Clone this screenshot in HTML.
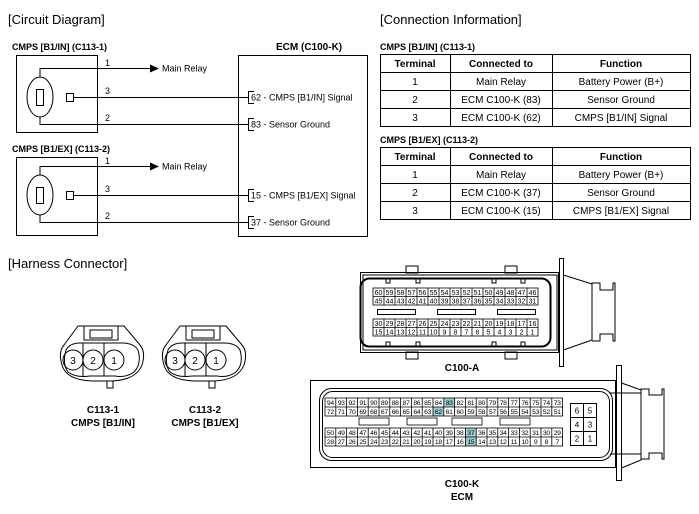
<!DOCTYPE html>
<html><head><meta charset="utf-8"><style>
html,body{margin:0;padding:0;background:#fff;}
svg{display:block;font-family:"Liberation Sans",Arial,sans-serif;}
.t{font-size:13px;}
.b{font-size:9px;font-weight:bold;}
.s{font-size:9px;}
</style></head><body>
<svg width="699" height="514" viewBox="0 0 699 514" xmlns="http://www.w3.org/2000/svg">
<g fill="none" stroke="#000" stroke-width="1">
<rect x="16.5" y="55.5" width="81" height="77"/>
<rect x="16.5" y="157.5" width="81" height="78"/>
<rect x="238.5" y="55.5" width="129" height="181"/>
<ellipse cx="40" cy="97" rx="13" ry="20"/>
<rect x="36.5" y="89.5" width="7" height="16"/>
<rect x="66.5" y="93.5" width="7" height="8"/>
<polyline points="40,77 40,68.5 150,68.5"/>
<polyline points="74,97.5 249,97.5"/>
<polyline points="40,117 40,124.5 249,124.5"/>
<polyline points="254,91.5 248.5,91.5 248.5,103.5 254,103.5"/>
<polyline points="254,118.5 248.5,118.5 248.5,130.5 254,130.5"/>
<ellipse cx="40" cy="195" rx="13" ry="20"/>
<rect x="36.5" y="187.5" width="7" height="16"/>
<rect x="66.5" y="191.5" width="7" height="8"/>
<polyline points="40,175 40,166.5 150,166.5"/>
<polyline points="74,195.5 249,195.5"/>
<polyline points="40,215 40,222.5 249,222.5"/>
<polyline points="254,189.5 248.5,189.5 248.5,201.5 254,201.5"/>
<polyline points="254,216.5 248.5,216.5 248.5,228.5 254,228.5"/>
<rect x="380.5" y="54.5" width="310" height="72"/>
<line x1="380" y1="72.5" x2="690" y2="72.5"/><line x1="380" y1="90.5" x2="690" y2="90.5"/><line x1="380" y1="108.5" x2="690" y2="108.5"/>
<line x1="450.5" y1="54" x2="450.5" y2="127"/><line x1="552.5" y1="54" x2="552.5" y2="127"/>
<rect x="380.5" y="147.5" width="310" height="72"/>
<line x1="380" y1="165.5" x2="690" y2="165.5"/><line x1="380" y1="183.5" x2="690" y2="183.5"/><line x1="380" y1="201.5" x2="690" y2="201.5"/>
<line x1="450.5" y1="147" x2="450.5" y2="220"/><line x1="552.5" y1="147" x2="552.5" y2="220"/>
</g>
<polygon points="150,64.5 159,68.5 150,72.5" fill="#000"/>
<polygon points="150,162.5 159,166.5 150,170.5" fill="#000"/>
<g fill="#000">
<text x="8" y="24" class="t">[Circuit Diagram]</text>
<text x="380" y="24" class="t">[Connection Information]</text>
<text x="8" y="268" class="t">[Harness Connector]</text>
<text x="12" y="50" class="b">CMPS [B1/IN] (C113-1)</text>
<text x="12" y="152" class="b">CMPS [B1/EX] (C113-2)</text>
<text x="276" y="50" class="b" style="font-size:10px">ECM (C100-K)</text>
<text x="105" y="66" class="s">1</text><text x="105" y="94" class="s">3</text><text x="105" y="121" class="s">2</text>
<text x="105" y="164" class="s">1</text><text x="105" y="192" class="s">3</text><text x="105" y="219" class="s">2</text>
<text x="162" y="71.5" class="s">Main Relay</text><text x="162" y="169.5" class="s">Main Relay</text>
<text x="251" y="100.5" class="s">62 - CMPS [B1/IN] Signal</text>
<text x="251" y="127.5" class="s">83 - Sensor Ground</text>
<text x="251" y="198.5" class="s">15 - CMPS [B1/EX] Signal</text>
<text x="251" y="225.5" class="s">37 - Sensor Ground</text>
<text x="380" y="50" class="b">CMPS [B1/IN] (C113-1)</text>
<text x="380" y="143" class="b">CMPS [B1/EX] (C113-2)</text>
<g font-size="10" text-anchor="middle">
<text x="415" y="67" font-weight="bold">Terminal</text><text x="501" y="67" font-weight="bold">Connected to</text><text x="621" y="67" font-weight="bold">Function</text>
<text x="415" y="85">1</text><text x="501" y="85">Main Relay</text><text x="621" y="85">Battery Power (B+)</text>
<text x="415" y="103">2</text><text x="501" y="103">ECM C100-K (83)</text><text x="621" y="103">Sensor Ground</text>
<text x="415" y="121">3</text><text x="501" y="121">ECM C100-K (62)</text><text x="621" y="121">CMPS [B1/IN] Signal</text>
<text x="415" y="160" font-weight="bold">Terminal</text><text x="501" y="160" font-weight="bold">Connected to</text><text x="621" y="160" font-weight="bold">Function</text>
<text x="415" y="178">1</text><text x="501" y="178">Main Relay</text><text x="621" y="178">Battery Power (B+)</text>
<text x="415" y="196">2</text><text x="501" y="196">ECM C100-K (37)</text><text x="621" y="196">Sensor Ground</text>
<text x="415" y="214">3</text><text x="501" y="214">ECM C100-K (15)</text><text x="621" y="214">CMPS [B1/EX] Signal</text>
</g>
<g font-size="10" font-weight="bold" text-anchor="middle">
<text x="103" y="413">C113-1</text><text x="103" y="426">CMPS [B1/IN]</text>
<text x="205" y="413">C113-2</text><text x="205" y="426">CMPS [B1/EX]</text>
<text x="462" y="371">C100-A</text>
<text x="462" y="487">C100-K</text><text x="462" y="500">ECM</text>
</g>
</g>
<g fill="none" stroke="#000" stroke-width="1">
<g id="sc">
<path d="M78,326 L124,326 L140,345 Q146,352 142,365 Q136,380 112,381 L92,381 Q66,380 62,365 Q58,352 64,345 Z"/>
<rect x="84" y="326" width="34" height="14"/>
<rect x="90" y="330" width="22" height="8"/>
<path d="M66,350 Q70,343 80,343 L122,343 Q134,343 138,350 Q142,364 134,372 Q126,378 115,376 L90,376 Q76,378 68,372 Q62,364 66,350 Z"/>
<line x1="83" y1="343" x2="83" y2="376"/><line x1="104" y1="343" x2="104" y2="376"/>
<circle cx="73" cy="360" r="10"/><circle cx="93" cy="360" r="10"/><circle cx="114" cy="360" r="10"/>
<polyline points="107,381 107,388 113,388 113,381"/>
</g>
<use href="#sc" x="102"/>
</g>
<g font-size="10" text-anchor="middle"><text x="73" y="364">3</text><text x="93" y="364">2</text><text x="114" y="364">1</text>
<text x="175" y="364">3</text><text x="195" y="364">2</text><text x="216" y="364">1</text></g>
<g fill="none" stroke="#000" stroke-width="1">
<rect x="360.5" y="272.5" width="198" height="80" fill="#fff"/>
<rect x="363" y="275" width="194" height="75"/>
<rect x="360.5" y="278.5" width="190" height="68" rx="9" stroke-width="2"/>
<rect x="406" y="266" width="12" height="7"/><rect x="505" y="266" width="12" height="7"/>
<rect x="406" y="352" width="12" height="7"/><rect x="505" y="352" width="12" height="7"/>
<rect x="386" y="279" width="4" height="4"/><rect x="416" y="279" width="4" height="4"/><rect x="492" y="279" width="4" height="4"/><rect x="521" y="279" width="4" height="4"/>
<rect x="386" y="342" width="4" height="4"/><rect x="416" y="342" width="4" height="4"/><rect x="492" y="342" width="4" height="4"/><rect x="521" y="342" width="4" height="4"/>
<rect x="559.5" y="258.5" width="4" height="108"/>
<polyline points="563.5,275 592,284 592,340 563.5,350"/>
<polyline points="592,284 592,283 600,283 600,290 613,290 613,283 615,283 615,341 613,341 613,334 600,334 600,341 592,341"/>
<rect x="377.5" y="309.5" width="38" height="5"/><rect x="437.5" y="309.5" width="38" height="5"/><rect x="497.5" y="309.5" width="38" height="5"/>
</g>
<g fill="none" stroke="#000" stroke-width="0.8">
<rect x="373" y="288" width="165" height="17"/><line x1="373" y1="296.5" x2="538" y2="296.5"/>
<rect x="373" y="319" width="165" height="17"/><line x1="373" y1="327.5" x2="538" y2="327.5"/>
<path d="M384,288v17M395,288v17M406,288v17M417,288v17M428,288v17M439,288v17M450,288v17M461,288v17M472,288v17M483,288v17M494,288v17M505,288v17M516,288v17M527,288v17"/>
<path d="M384,319v17M395,319v17M406,319v17M417,319v17M428,319v17M439,319v17M450,319v17M461,319v17M472,319v17M483,319v17M494,319v17M505,319v17M516,319v17M527,319v17"/>
</g>
<g font-size="7" text-anchor="middle">
<text y="295"><tspan x="378.5">60</tspan><tspan x="389.5">59</tspan><tspan x="400.5">58</tspan><tspan x="411.5">57</tspan><tspan x="422.5">56</tspan><tspan x="433.5">55</tspan><tspan x="444.5">54</tspan><tspan x="455.5">53</tspan><tspan x="466.5">52</tspan><tspan x="477.5">51</tspan><tspan x="488.5">50</tspan><tspan x="499.5">49</tspan><tspan x="510.5">48</tspan><tspan x="521.5">47</tspan><tspan x="532.5">46</tspan></text>
<text y="303.5"><tspan x="378.5">45</tspan><tspan x="389.5">44</tspan><tspan x="400.5">43</tspan><tspan x="411.5">42</tspan><tspan x="422.5">41</tspan><tspan x="433.5">40</tspan><tspan x="444.5">39</tspan><tspan x="455.5">38</tspan><tspan x="466.5">37</tspan><tspan x="477.5">36</tspan><tspan x="488.5">35</tspan><tspan x="499.5">34</tspan><tspan x="510.5">33</tspan><tspan x="521.5">32</tspan><tspan x="532.5">31</tspan></text>
<text y="326"><tspan x="378.5">30</tspan><tspan x="389.5">29</tspan><tspan x="400.5">28</tspan><tspan x="411.5">27</tspan><tspan x="422.5">26</tspan><tspan x="433.5">25</tspan><tspan x="444.5">24</tspan><tspan x="455.5">23</tspan><tspan x="466.5">22</tspan><tspan x="477.5">21</tspan><tspan x="488.5">20</tspan><tspan x="499.5">19</tspan><tspan x="510.5">18</tspan><tspan x="521.5">17</tspan><tspan x="532.5">16</tspan></text>
<text y="334.5"><tspan x="378.5">15</tspan><tspan x="389.5">14</tspan><tspan x="400.5">13</tspan><tspan x="411.5">12</tspan><tspan x="422.5">11</tspan><tspan x="433.5">10</tspan><tspan x="444.5">9</tspan><tspan x="455.5">8</tspan><tspan x="466.5">7</tspan><tspan x="477.5">6</tspan><tspan x="488.5">5</tspan><tspan x="499.5">4</tspan><tspan x="510.5">3</tspan><tspan x="521.5">2</tspan><tspan x="532.5">1</tspan></text>
</g>
<g fill="none" stroke="#000" stroke-width="1">
<rect x="310.5" y="380.5" width="305" height="87"/>
<rect x="319.5" y="388.5" width="293" height="72" rx="12"/>
<rect x="322.5" y="391.5" width="287" height="66" rx="10"/>
<rect x="616.5" y="365.5" width="5" height="115"/>
<polyline points="621.5,383 641,390 641,460 621.5,468"/>
<line x1="610" y1="393" x2="641" y2="393"/><line x1="610" y1="454" x2="641" y2="454"/>
<polyline points="641,390 641,389 649,389 649,395 662,395 662,389 664,389 664,459 662,459 662,453 649,453 649,459 641,459"/>
<rect x="570.5" y="403.5" width="26" height="42"/>
<line x1="570" y1="417.5" x2="597" y2="417.5"/><line x1="570" y1="431.5" x2="597" y2="431.5"/><line x1="583.5" y1="403" x2="583.5" y2="446"/>
</g>
<g fill="#9ecdd0">
<rect x="443.8" y="398" width="10.8" height="9"/><rect x="433" y="407" width="10.8" height="9"/>
<rect x="465.4" y="428" width="10.8" height="9"/><rect x="465.4" y="437" width="10.8" height="9"/>
</g>
<g fill="none" stroke="#000" stroke-width="0.8">
<rect x="325" y="398" width="237.6" height="18"/><line x1="325" y1="407" x2="562.6" y2="407"/>
<rect x="325" y="428" width="237.6" height="18"/><line x1="325" y1="437" x2="562.6" y2="437"/>
<path d="M335.8,398v18M346.6,398v18M357.4,398v18M368.2,398v18M379,398v18M389.8,398v18M400.6,398v18M411.4,398v18M422.2,398v18M433,398v18M443.8,398v18M454.6,398v18M465.4,398v18M476.2,398v18M487,398v18M497.8,398v18M508.6,398v18M519.4,398v18M530.2,398v18M541,398v18M551.8,398v18"/>
<path d="M335.8,428v18M346.6,428v18M357.4,428v18M368.2,428v18M379,428v18M389.8,428v18M400.6,428v18M411.4,428v18M422.2,428v18M433,428v18M443.8,428v18M454.6,428v18M465.4,428v18M476.2,428v18M487,428v18M497.8,428v18M508.6,428v18M519.4,428v18M530.2,428v18M541,428v18M551.8,428v18"/>
<rect x="359" y="418" width="30" height="7"/><rect x="407" y="418" width="30" height="7"/><rect x="452" y="418" width="30" height="7"/><rect x="500" y="418" width="30" height="7"/>
</g>
<g font-size="6.8" text-anchor="middle" letter-spacing="-0.3">
<text y="405"><tspan x="330.4">94</tspan><tspan x="341.2">93</tspan><tspan x="352">92</tspan><tspan x="362.8">91</tspan><tspan x="373.6">90</tspan><tspan x="384.4">89</tspan><tspan x="395.2">88</tspan><tspan x="406">87</tspan><tspan x="416.8">86</tspan><tspan x="427.6">85</tspan><tspan x="438.4">84</tspan><tspan x="449.2">83</tspan><tspan x="460">82</tspan><tspan x="470.8">81</tspan><tspan x="481.6">80</tspan><tspan x="492.4">79</tspan><tspan x="503.2">78</tspan><tspan x="514">77</tspan><tspan x="524.8">76</tspan><tspan x="535.6">75</tspan><tspan x="546.4">74</tspan><tspan x="557.2">73</tspan></text>
<text y="414"><tspan x="330.4">72</tspan><tspan x="341.2">71</tspan><tspan x="352">70</tspan><tspan x="362.8">69</tspan><tspan x="373.6">68</tspan><tspan x="384.4">67</tspan><tspan x="395.2">66</tspan><tspan x="406">65</tspan><tspan x="416.8">64</tspan><tspan x="427.6">63</tspan><tspan x="438.4">62</tspan><tspan x="449.2">61</tspan><tspan x="460">60</tspan><tspan x="470.8">59</tspan><tspan x="481.6">58</tspan><tspan x="492.4">57</tspan><tspan x="503.2">56</tspan><tspan x="514">55</tspan><tspan x="524.8">54</tspan><tspan x="535.6">53</tspan><tspan x="546.4">52</tspan><tspan x="557.2">51</tspan></text>
<text y="435"><tspan x="330.4">50</tspan><tspan x="341.2">49</tspan><tspan x="352">48</tspan><tspan x="362.8">47</tspan><tspan x="373.6">46</tspan><tspan x="384.4">45</tspan><tspan x="395.2">44</tspan><tspan x="406">43</tspan><tspan x="416.8">42</tspan><tspan x="427.6">41</tspan><tspan x="438.4">40</tspan><tspan x="449.2">39</tspan><tspan x="460">38</tspan><tspan x="470.8">37</tspan><tspan x="481.6">36</tspan><tspan x="492.4">35</tspan><tspan x="503.2">34</tspan><tspan x="514">33</tspan><tspan x="524.8">32</tspan><tspan x="535.6">31</tspan><tspan x="546.4">30</tspan><tspan x="557.2">29</tspan></text>
<text y="444"><tspan x="330.4">28</tspan><tspan x="341.2">27</tspan><tspan x="352">26</tspan><tspan x="362.8">25</tspan><tspan x="373.6">24</tspan><tspan x="384.4">23</tspan><tspan x="395.2">22</tspan><tspan x="406">21</tspan><tspan x="416.8">20</tspan><tspan x="427.6">19</tspan><tspan x="438.4">18</tspan><tspan x="449.2">17</tspan><tspan x="460">16</tspan><tspan x="470.8">15</tspan><tspan x="481.6">14</tspan><tspan x="492.4">13</tspan><tspan x="503.2">12</tspan><tspan x="514">11</tspan><tspan x="524.8">10</tspan><tspan x="535.6">9</tspan><tspan x="546.4">8</tspan><tspan x="557.2">7</tspan></text>
</g>
<g font-size="8" text-anchor="middle">
<text x="577" y="413.5">6</text><text x="590" y="413.5">5</text>
<text x="577" y="427.5">4</text><text x="590" y="427.5">3</text>
<text x="577" y="441.5">2</text><text x="590" y="441.5">1</text>
</g>
</svg>
</body></html>
